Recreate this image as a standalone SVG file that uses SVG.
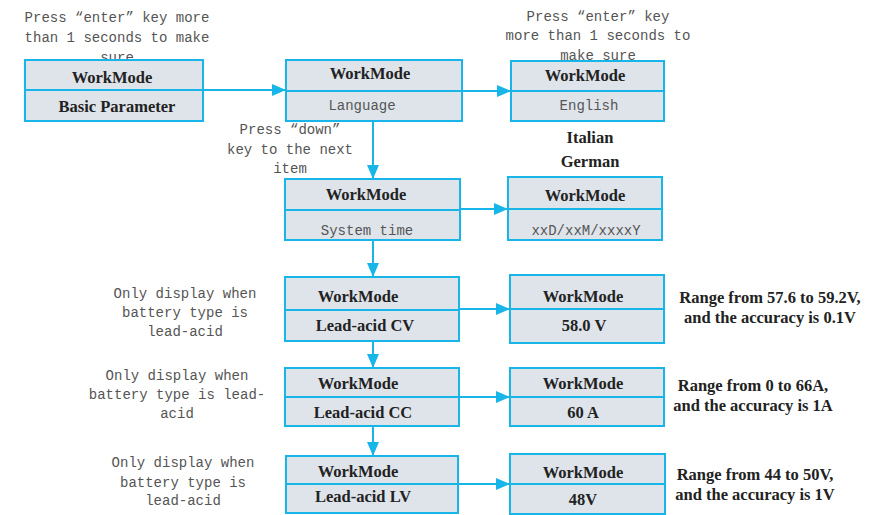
<svg xmlns="http://www.w3.org/2000/svg" width="884" height="515" viewBox="0 0 884 515">
<defs>
<style>
.box{fill:#dfe4eb;stroke:#18b6e8;stroke-width:2}
.div{stroke:#18b6e8;stroke-width:2}
.b{font-family:"Liberation Serif","Times New Roman",serif;font-weight:bold;font-size:16.5px;fill:#222;text-anchor:middle}
.m{font-family:"Liberation Mono","Courier New",monospace;font-size:14px;fill:#555;text-anchor:middle}
.c{stroke:#18b6e8;stroke-width:2;fill:none;marker-end:url(#ah)}
</style>
<marker id="ah" markerUnits="userSpaceOnUse" markerWidth="14" markerHeight="12" refX="14" refY="6" orient="auto">
<path d="M0,0 L14,6 L0,12 Z" fill="#18b6e8"/>
</marker>
</defs>
<rect width="884" height="515" fill="#fff"/>

<g id="notes">
<text class="m" x="117" y="22">Press “enter” key more</text>
<text class="m" x="117" y="42">than 1 seconds to make</text>
<text class="m" x="117" y="62">sure</text>
<text class="m" x="598" y="21">Press “enter” key</text>
<text class="m" x="598" y="40">more than 1 seconds to</text>
<text class="m" x="598" y="60">make sure</text>
<text class="m" x="290" y="134">Press “down”</text>
<text class="m" x="290" y="154">key to the next</text>
<text class="m" x="290" y="173">item</text>
<text class="m" x="185" y="298">Only display when</text>
<text class="m" x="185" y="317">battery type is</text>
<text class="m" x="185" y="336">lead-acid</text>
<text class="m" x="177" y="380">Only display when</text>
<text class="m" x="177" y="399">battery type is lead-</text>
<text class="m" x="177" y="418">acid</text>
<text class="m" x="183" y="467">Only display when</text>
<text class="m" x="183" y="487">battery type is</text>
<text class="m" x="183" y="505">lead-acid</text>
<text class="b" x="590" y="143">Italian</text>
<text class="b" x="590" y="167">German</text>
<text class="b" x="770" y="303">Range from 57.6 to 59.2V,</text>
<text class="b" x="770" y="323">and the accuracy is 0.1V</text>
<text class="b" x="753" y="391">Range from 0 to 66A,</text>
<text class="b" x="753" y="411">and the accuracy is 1A</text>
<text class="b" x="755" y="480">Range from 44 to 50V,</text>
<text class="b" x="755" y="500">and the accuracy is 1V</text>
</g>

<g id="connectors">
<line class="c" x1="203" y1="90" x2="286" y2="90"/>
<line class="c" x1="462" y1="91" x2="511" y2="91"/>
<line class="c" x1="460" y1="209" x2="508" y2="209"/>
<line class="c" x1="459" y1="309" x2="510" y2="309"/>
<line class="c" x1="459" y1="397" x2="510" y2="397"/>
<line class="c" x1="458" y1="484" x2="510" y2="484"/>
<line class="c" x1="373" y1="121" x2="373" y2="179"/>
<line class="c" x1="373" y1="240" x2="373" y2="277"/>
<line class="c" x1="373" y1="341" x2="373" y2="368"/>
<line class="c" x1="373" y1="426" x2="373" y2="456"/>
</g>

<g id="n1">
<rect class="box" x="25" y="60" width="178" height="61"/>
<line class="div" x1="25" y1="90" x2="203" y2="90"/>
<text class="b" x="112" y="83">WorkMode</text>
<text class="b" x="117" y="112">Basic Parameter</text>
</g>
<g id="n2">
<rect class="box" x="286" y="60" width="176" height="61"/>
<line class="div" x1="286" y1="91" x2="462" y2="91"/>
<text class="b" x="370" y="79">WorkMode</text>
<text class="m" x="362" y="110">Language</text>
</g>
<g id="n3">
<rect class="box" x="511" y="61" width="153" height="60"/>
<line class="div" x1="511" y1="91" x2="664" y2="91"/>
<text class="b" x="585" y="81">WorkMode</text>
<text class="m" x="589" y="110">English</text>
</g>
<g id="n4">
<rect class="box" x="285" y="179" width="175" height="61"/>
<line class="div" x1="285" y1="210" x2="460" y2="210"/>
<text class="b" x="366" y="200">WorkMode</text>
<text class="m" x="367" y="235">System time</text>
</g>
<g id="n5">
<rect class="box" x="508" y="177" width="154" height="63"/>
<line class="div" x1="508" y1="209" x2="662" y2="209"/>
<text class="b" x="585" y="201">WorkMode</text>
<text class="m" x="586" y="235">xxD/xxM/xxxxY</text>
</g>
<g id="n6">
<rect class="box" x="285" y="277" width="174" height="64"/>
<line class="div" x1="285" y1="310" x2="459" y2="310"/>
<text class="b" x="358" y="302">WorkMode</text>
<text class="b" x="365" y="331">Lead-acid CV</text>
</g>
<g id="n7">
<rect class="box" x="510" y="275" width="154" height="68"/>
<line class="div" x1="510" y1="309" x2="664" y2="309"/>
<text class="b" x="583" y="302">WorkMode</text>
<text class="b" x="584" y="331">58.0 V</text>
</g>
<g id="n8">
<rect class="box" x="285" y="368" width="174" height="58"/>
<line class="div" x1="285" y1="397" x2="459" y2="397"/>
<text class="b" x="358" y="389">WorkMode</text>
<text class="b" x="363" y="418">Lead-acid CC</text>
</g>
<g id="n9">
<rect class="box" x="510" y="368" width="154" height="58"/>
<line class="div" x1="510" y1="397" x2="664" y2="397"/>
<text class="b" x="583" y="389">WorkMode</text>
<text class="b" x="583" y="418">60 A</text>
</g>
<g id="n10">
<rect class="box" x="286" y="456" width="172" height="57"/>
<line class="div" x1="286" y1="484" x2="458" y2="484"/>
<text class="b" x="358" y="477">WorkMode</text>
<text class="b" x="363" y="502">Lead-acid LV</text>
</g>
<g id="n11">
<rect class="box" x="510" y="454" width="155" height="60"/>
<line class="div" x1="510" y1="484" x2="665" y2="484"/>
<text class="b" x="583" y="478">WorkMode</text>
<text class="b" x="583" y="505">48V</text>
</g>
</svg>
